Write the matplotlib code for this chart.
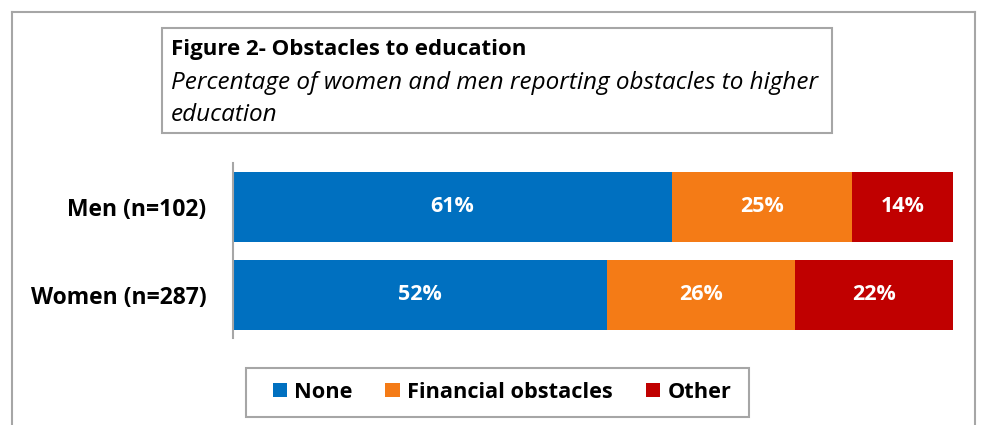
import matplotlib.pyplot as plt
from matplotlib.patches import Rectangle, Patch
from matplotlib.lines import Line2D
import numpy as np

plt.rcParams['font.family'] = ['Open Sans', 'DejaVu Sans']

groups = ['Women (n=287)', 'Men (n=102)']
series = ['None', 'Financial obstacles', 'Other']
none_vals = [52, 61]
financial_vals = [26, 25]
other_vals = [22, 14]
colors = ['#0070c0', '#f47b16', '#c00000']

W, H = 982, 425
fig = plt.figure(figsize=(W / 100, H / 100), dpi=100)

def fx(px):
    return px / W

def fy(py):
    return 1 - py / H

# outer chart border
grey = '#a6a6a6'
fig.add_artist(Line2D([fx(12), fx(12)], [fy(12), 0], color=grey, lw=1.5))
fig.add_artist(Line2D([fx(12), fx(975)], [fy(12), fy(12)], color=grey, lw=1.5))
fig.add_artist(Line2D([fx(975), fx(975)], [fy(12), 0], color=grey, lw=1.5))

# title box
fig.add_artist(Rectangle((fx(162), fy(133)), fx(832) - fx(162), fy(28) - fy(133),
                         fill=False, edgecolor=grey, lw=1.5))
fig.text(fx(171), fy(49), 'Figure 2- Obstacles to education', fontsize=16,
         fontweight='bold', va='center', ha='left')
fig.text(fx(171), fy(83), 'Percentage of women and men reporting obstacles to higher',
         fontsize=17.5, style='italic', va='center', ha='left')
fig.text(fx(171), fy(115), 'education', fontsize=17.5, style='italic', va='center', ha='left')

ax = fig.add_axes([fx(233), fy(338), fx(953) - fx(233), fy(163) - fy(338)])
y = np.arange(len(groups))
left = np.zeros(len(groups))
for vals, c, name in zip([none_vals, financial_vals, other_vals], colors, series):
    ax.barh(y, vals, left=left, height=0.795, color=c, label=name)
    for yi, l, v in zip(y, left, vals):
        ax.text(l + v / 2, yi, f'{v}%', color='white', fontsize=15.5,
                fontweight='bold', ha='center', va='center')
    left += np.array(vals)

ax.set_xlim(0, 100)
ax.set_ylim(-0.49, 1.5)
ax.set_yticks(y)
ax.set_yticklabels(groups, fontsize=16.5, fontweight='bold')
ax.tick_params(axis='y', length=0, pad=19)
ax.set_xticks([])
for s in ['top', 'right', 'bottom']:
    ax.spines[s].set_visible(False)
ax.spines['left'].set_color(grey)
ax.spines['left'].set_linewidth(1.5)

# legend
fig.add_artist(Rectangle((fx(246), fy(417)), fx(749) - fx(246), fy(368) - fy(417),
                         fill=False, edgecolor=grey, lw=1.5))
handles = [Patch(facecolor=c) for c in colors]
fig.legend(handles, series, loc='center', bbox_to_anchor=(fx(502), fy(392)),
           ncol=3, frameon=False, prop={'size': 15.7, 'weight': 'bold'},
           handlelength=0.65, handleheight=0.65, handletextpad=0.35, columnspacing=1.5)

fig.savefig('out.png', dpi=100)
